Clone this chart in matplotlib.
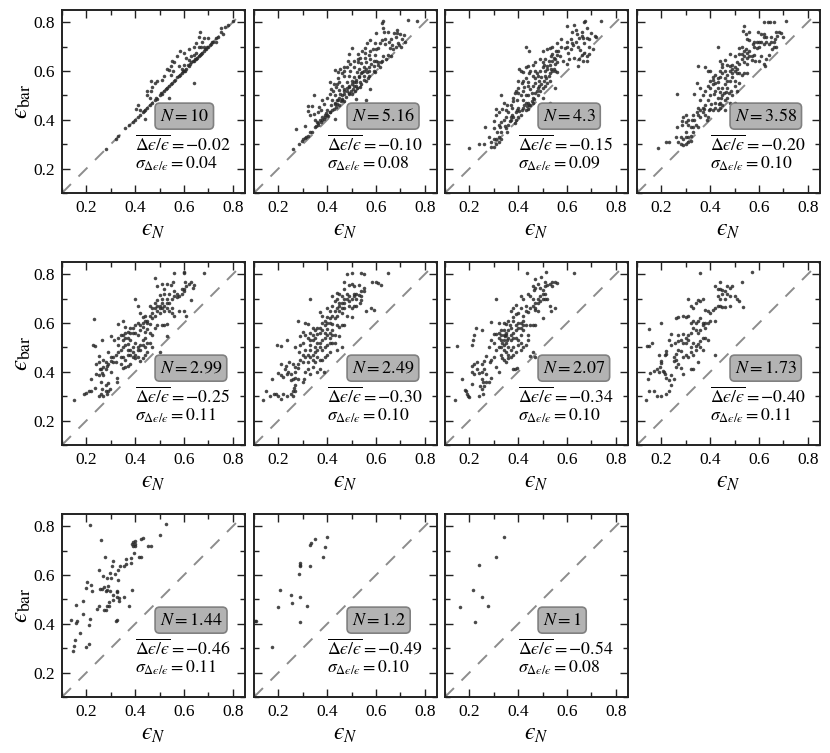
"""Bar ellipticity against isophotal ellipticity for eleven values of N."""

import matplotlib

matplotlib.use("Agg")
import matplotlib.pyplot as plt
from matplotlib.ticker import MultipleLocator

plt.rcParams["font.family"] = ["Liberation Serif", "DejaVu Serif"]
plt.rcParams["mathtext.fontset"] = "stix"

# (eps_N, eps_bar) pairs, one list per panel
pts_10 = [(.28,.28),(.32,.32),(.33,.335),(.36,.365),(.375,.38),(.39,.39),(.40,.40),(.41,.41),(.42,.42),(.43,.43),(.44,.44),(.45,.45),(.46,.46),(.47,.47),(.48,.48),(.49,.485),(.50,.50),(.51,.505),(.52,.52),(.53,.53),(.54,.54),(.55,.55),(.56,.56),(.57,.575),(.58,.58),(.59,.59),(.60,.60),(.61,.61),(.62,.62),(.63,.635),(.64,.64),(.65,.65),(.66,.66),(.67,.67),(.68,.68),(.69,.69),(.70,.70),(.71,.71),(.72,.72),(.73,.72),(.74,.74),(.75,.76),(.76,.75),(.77,.78),(.78,.79),(.80,.805),(.435,.435),(.485,.49),(.505,.51),(.525,.525),(.545,.545),(.565,.565),(.585,.585),(.595,.60),(.605,.60),(.615,.625),(.625,.63),(.635,.64),(.645,.65),(.655,.655),(.665,.665),(.675,.675),(.685,.69),(.695,.70),(.705,.705),(.715,.72),(.666,.758),(.66,.74),(.68,.735),(.675,.72),(.70,.735),(.64,.70),(.65,.715),(.66,.70),(.67,.70),(.62,.69),(.60,.675),(.585,.68),(.61,.655),(.57,.66),(.55,.64),(.56,.635),(.58,.62),(.545,.62),(.555,.60),(.53,.61),(.54,.605),(.52,.58),(.545,.585),(.49,.56),(.51,.565),(.465,.56),(.47,.535),(.48,.55),(.45,.52),(.465,.52),(.45,.50),(.46,.49),(.41,.46),(.405,.445),(.42,.44),(.54,.49),(.64,.55),(.44,.405),(.75,.775),(.73,.735),(.64,.665),(.65,.675),(.63,.66),(.62,.645),(.68,.70),(.60,.625),(.59,.61)]

pts_516 = [(.768,.805),(.73,.81),(.627,.805),(.625,.795),(.63,.775),(.686,.77),(.648,.76),(.634,.76),(.673,.755),(.686,.757),(.70,.75),(.714,.747),(.60,.755),(.682,.74),(.707,.73),(.663,.73),(.638,.73),(.625,.725),(.652,.72),(.618,.715),(.636,.71),(.577,.725),(.597,.715),(.565,.715),(.693,.705),(.703,.70),(.665,.705),(.656,.695),(.61,.695),(.587,.69),(.556,.695),(.50,.695),(.49,.67),(.526,.67),(.556,.675),(.542,.68),(.57,.665),(.597,.665),(.63,.66),(.66,.66),(.535,.655),(.556,.655),(.577,.648),(.59,.643),(.61,.637),(.625,.643),(.51,.64),(.525,.637),(.54,.633),(.56,.637),(.495,.628),(.48,.617),(.467,.615),(.453,.61),(.433,.603),(.443,.597),(.51,.615),(.53,.61),(.55,.615),(.57,.615),(.597,.595),(.618,.615),(.495,.60),(.522,.595),(.543,.595),(.563,.595),(.467,.58),(.443,.57),(.412,.555),(.426,.545),(.447,.553),(.488,.58),(.508,.575),(.53,.575),(.55,.565),(.566,.573),(.50,.557),(.52,.553),(.538,.545),(.48,.553),(.46,.54),(.437,.533),(.416,.526),(.447,.522),(.467,.526),(.49,.535),(.51,.54),(.522,.53),(.574,.526),(.48,.518),(.497,.518),(.453,.505),(.47,.507),(.488,.507),(.433,.50),(.412,.507),(.344,.50),(.378,.48),(.42,.483),(.443,.483),(.46,.486),(.52,.486),(.56,.48),(.556,.465),(.323,.458),(.337,.455),(.367,.452),(.374,.442),(.43,.463),(.437,.452),(.45,.46),(.323,.435),(.344,.425),(.328,.42),(.364,.433),(.396,.426),(.412,.433),(.426,.446),(.405,.415),(.433,.403),(.378,.40),(.364,.387),(.35,.37),(.337,.35),(.33,.35),(.31,.375),(.273,.364),(.31,.327),(.296,.313),(.285,.30),(.258,.28),(.323,.334),(.364,.38),(.39,.42),(.385,.405),(.42,.44),(.41,.43),(.40,.42),(.44,.465),(.46,.48),(.475,.495),(.49,.51),(.505,.525),(.52,.54),(.535,.555),(.55,.58),(.57,.60),(.59,.62),(.60,.64),(.30,.32),(.315,.33),(.355,.375),(.375,.39),(.43,.47),(.44,.48),(.45,.49),(.46,.50),(.47,.52),(.48,.53),(.49,.54),(.50,.545),(.51,.555),(.52,.565),(.53,.58),(.54,.59),(.55,.60),(.56,.61),(.58,.63),(.40,.44),(.39,.41),(.38,.41),(.37,.40),(.36,.39),(.415,.46),(.455,.475),(.47,.475),(.50,.505),(.515,.52),(.535,.535),(.56,.56),(.57,.58),(.59,.60),(.61,.625),(.62,.635),(.64,.65),(.65,.665),(.67,.69),(.68,.70),(.69,.715),(.72,.72),(.60,.69),(.575,.68),(.525,.65),(.47,.60),(.485,.64),(.46,.59),(.44,.545),(.425,.52),(.40,.49),(.385,.465),(.35,.40)]

pts_43 = [(.20,.285),(.24,.30),(.26,.30),(.29,.29),(.29,.31),(.30,.29),(.30,.32),(.31,.30),(.31,.32),(.32,.31),(.32,.33),(.33,.32),(.28,.33),(.265,.37),(.30,.365),(.30,.395),(.31,.42),(.325,.37),(.315,.35),(.35,.365),(.36,.38),(.365,.395),(.31,.445),(.32,.43),(.335,.445),(.33,.50),(.35,.44),(.36,.43),(.37,.46),(.38,.475),(.375,.42),(.39,.40),(.385,.385),(.40,.41),(.41,.42),(.40,.45),(.42,.45),(.43,.44),(.44,.445),(.45,.46),(.46,.47),(.44,.47),(.38,.49),(.395,.48),(.42,.48),(.43,.50),(.385,.51),(.40,.53),(.42,.52),(.44,.50),(.46,.49),(.47,.51),(.48,.50),(.49,.52),(.50,.49),(.53,.47),(.45,.525),(.46,.54),(.47,.55),(.48,.53),(.50,.53),(.51,.54),(.52,.55),(.55,.53),(.415,.55),(.43,.57),(.44,.555),(.42,.595),(.40,.56),(.41,.60),(.405,.61),(.44,.62),(.43,.615),(.45,.60),(.46,.625),(.47,.60),(.48,.58),(.49,.60),(.50,.615),(.51,.60),(.52,.61),(.47,.635),(.49,.65),(.50,.635),(.51,.65),(.53,.59),(.54,.60),(.55,.60),(.53,.56),(.56,.595),(.43,.70),(.445,.68),(.50,.68),(.52,.69),(.53,.695),(.54,.70),(.55,.65),(.54,.67),(.555,.68),(.56,.665),(.57,.66),(.54,.64),(.55,.63),(.56,.635),(.53,.625),(.585,.64),(.60,.63),(.61,.65),(.605,.675),(.63,.655),(.65,.65),(.665,.64),(.655,.685),(.645,.70),(.62,.715),(.615,.73),(.60,.72),(.56,.715),(.575,.73),(.62,.76),(.64,.75),(.66,.745),(.665,.735),(.68,.735),(.69,.73),(.66,.76),(.68,.775),(.70,.755),(.715,.745),(.72,.74),(.635,.77),(.60,.785),(.63,.79),(.67,.80),(.675,.805),(.74,.805),(.705,.69),(.67,.675),(.66,.665),(.68,.66),(.69,.67),(.33,.35),(.345,.375),(.355,.35),(.37,.40),(.47,.57),(.51,.58),(.52,.62),(.37,.41),(.38,.41),(.39,.43),(.395,.44),(.405,.435),(.415,.44),(.425,.46),(.43,.47),(.435,.455),(.445,.46),(.455,.475),(.465,.485),(.475,.52),(.485,.54),(.495,.545),(.505,.56),(.515,.57),(.525,.58),(.535,.61),(.545,.61),(.485,.56),(.46,.58),(.445,.59),(.42,.56),(.40,.51),(.375,.45),(.35,.41),(.34,.40),(.33,.39),(.32,.38),(.34,.47),(.355,.46),(.39,.52),(.41,.50),(.425,.535),(.44,.54),(.455,.51),(.475,.59),(.495,.575),(.505,.625),(.525,.64),(.535,.66),(.545,.655),(.565,.68),(.575,.70),(.59,.695),(.60,.70),(.615,.69),(.625,.705),(.635,.72),(.65,.735),(.67,.715),(.69,.70),(.68,.64),(.645,.62)]

pts_358 = [(.185,.285),(.22,.31),(.23,.31),(.26,.33),(.265,.37),(.27,.31),(.28,.33),(.28,.30),(.29,.32),(.29,.295),(.30,.33),(.30,.30),(.31,.33),(.31,.31),(.32,.315),(.32,.335),(.285,.395),(.29,.41),(.285,.38),(.30,.42),(.30,.39),(.32,.37),(.325,.40),(.33,.35),(.34,.38),(.35,.37),(.345,.43),(.36,.41),(.36,.44),(.37,.45),(.38,.42),(.385,.40),(.39,.41),(.38,.46),(.39,.48),(.40,.445),(.41,.44),(.42,.45),(.43,.44),(.44,.45),(.45,.46),(.46,.44),(.40,.50),(.415,.505),(.43,.49),(.44,.47),(.45,.50),(.46,.48),(.47,.49),(.48,.47),(.49,.50),(.50,.47),(.265,.505),(.335,.505),(.345,.55),(.36,.53),(.38,.52),(.39,.54),(.40,.53),(.41,.545),(.42,.52),(.43,.53),(.44,.515),(.45,.53),(.46,.545),(.47,.53),(.50,.54),(.52,.55),(.35,.62),(.38,.615),(.39,.60),(.40,.60),(.41,.575),(.42,.585),(.43,.57),(.44,.60),(.45,.615),(.46,.60),(.47,.585),(.48,.56),(.49,.575),(.50,.56),(.51,.59),(.43,.70),(.44,.64),(.45,.63),(.46,.645),(.47,.625),(.48,.60),(.49,.625),(.50,.615),(.51,.635),(.52,.59),(.53,.585),(.54,.59),(.55,.59),(.50,.66),(.52,.67),(.53,.65),(.54,.66),(.545,.69),(.55,.675),(.56,.66),(.57,.66),(.58,.665),(.585,.64),(.53,.70),(.52,.695),(.54,.635),(.55,.63),(.60,.64),(.62,.63),(.625,.62),(.63,.65),(.61,.66),(.64,.665),(.655,.69),(.66,.70),(.64,.71),(.63,.72),(.60,.70),(.59,.695),(.575,.71),(.56,.725),(.55,.73),(.595,.76),(.61,.75),(.62,.74),(.63,.74),(.65,.74),(.665,.73),(.67,.76),(.675,.745),(.68,.76),(.69,.755),(.70,.74),(.62,.75),(.62,.80),(.635,.80),(.645,.80),(.66,.80),(.71,.805),(.54,.785),(.535,.765),(.545,.75),(.48,.67),(.56,.76),(.58,.72),(.49,.59),(.51,.52),(.335,.40),(.35,.42),(.37,.43),(.375,.445),(.395,.44),(.405,.465),(.42,.47),(.435,.465),(.445,.49),(.455,.51),(.465,.515),(.475,.51),(.485,.52),(.40,.56),(.41,.565),(.42,.55),(.43,.555),(.44,.575),(.45,.59),(.46,.57),(.47,.56),(.48,.62),(.49,.61),(.50,.60),(.51,.61),(.52,.63),(.53,.67),(.54,.68),(.55,.655),(.56,.68),(.57,.645),(.58,.70),(.59,.72),(.60,.72),(.61,.72),(.62,.71),(.65,.72),(.66,.72),(.67,.70),(.36,.48),(.37,.50),(.35,.45),(.33,.42),(.31,.40),(.31,.38),(.30,.35),(.33,.37)]

pts_299 = [(.15,.285),(.19,.31),(.20,.315),(.21,.32),(.22,.32),(.22,.37),(.24,.39),(.235,.335),(.25,.30),(.26,.31),(.265,.33),(.27,.30),(.28,.32),(.285,.31),(.29,.32),(.295,.33),(.28,.345),(.29,.355),(.25,.385),(.265,.395),(.26,.41),(.27,.385),(.28,.41),(.29,.43),(.24,.43),(.25,.44),(.25,.465),(.28,.44),(.29,.48),(.30,.40),(.325,.36),(.325,.375),(.30,.445),(.31,.46),(.32,.44),(.33,.48),(.34,.43),(.35,.415),(.36,.42),(.37,.425),(.38,.43),(.225,.51),(.235,.505),(.265,.53),(.30,.545),(.315,.53),(.33,.51),(.34,.49),(.35,.50),(.36,.51),(.37,.47),(.38,.49),(.39,.46),(.40,.455),(.41,.46),(.42,.445),(.43,.455),(.44,.47),(.45,.48),(.50,.48),(.33,.54),(.34,.55),(.35,.53),(.36,.54),(.37,.515),(.38,.53),(.39,.50),(.40,.52),(.41,.50),(.42,.49),(.43,.51),(.44,.50),(.45,.52),(.46,.52),(.47,.50),(.53,.545),(.23,.615),(.33,.595),(.35,.61),(.36,.585),(.37,.565),(.38,.58),(.39,.56),(.40,.59),(.41,.60),(.42,.57),(.43,.585),(.44,.565),(.45,.575),(.46,.56),(.47,.55),(.48,.58),(.49,.59),(.51,.59),(.52,.59),(.53,.595),(.40,.70),(.41,.67),(.42,.64),(.43,.625),(.44,.63),(.45,.61),(.46,.595),(.47,.62),(.48,.63),(.49,.65),(.50,.64),(.51,.66),(.52,.65),(.53,.66),(.54,.68),(.55,.66),(.56,.63),(.58,.65),(.60,.65),(.61,.63),(.63,.695),(.46,.67),(.47,.66),(.48,.68),(.49,.695),(.50,.715),(.51,.70),(.52,.72),(.53,.70),(.54,.72),(.55,.70),(.56,.71),(.57,.705),(.58,.71),(.59,.72),(.60,.74),(.61,.75),(.62,.76),(.63,.77),(.64,.755),(.635,.745),(.605,.77),(.60,.73),(.48,.785),(.49,.75),(.51,.76),(.53,.76),(.545,.755),(.56,.73),(.555,.77),(.52,.74),(.56,.805),(.60,.805),(.60,.81),(.68,.805),(.27,.42),(.285,.425),(.30,.46),(.31,.44),(.32,.47),(.34,.46),(.35,.46),(.36,.45),(.37,.49),(.38,.47),(.39,.48),(.40,.47),(.41,.49),(.42,.51),(.43,.53),(.44,.54),(.35,.55),(.36,.56),(.37,.54),(.38,.56),(.39,.58),(.40,.56),(.41,.55),(.42,.59),(.43,.60),(.44,.61),(.45,.60),(.46,.63),(.47,.64),(.48,.66),(.49,.67),(.50,.67),(.51,.68),(.52,.67),(.53,.68),(.54,.65),(.55,.64),(.50,.66),(.59,.74),(.57,.72),(.255,.41),(.27,.45),(.26,.36)]

pts_249 = [(.135,.285),(.15,.32),(.165,.30),(.18,.31),(.19,.31),(.20,.30),(.21,.29),(.22,.31),(.235,.30),(.25,.31),(.26,.32),(.26,.30),(.27,.345),(.27,.32),(.265,.335),(.175,.37),(.20,.395),(.21,.385),(.22,.38),(.225,.41),(.235,.39),(.24,.40),(.25,.365),(.26,.37),(.27,.375),(.28,.37),(.30,.36),(.305,.37),(.21,.43),(.23,.425),(.245,.44),(.26,.43),(.27,.42),(.28,.415),(.30,.44),(.31,.40),(.32,.41),(.33,.39),(.34,.42),(.36,.40),(.37,.41),(.385,.40),(.195,.51),(.21,.505),(.235,.53),(.27,.50),(.285,.48),(.29,.51),(.30,.52),(.31,.49),(.32,.47),(.33,.49),(.34,.45),(.35,.44),(.36,.46),(.37,.45),(.38,.45),(.39,.46),(.40,.47),(.41,.48),(.44,.49),(.46,.50),(.29,.545),(.30,.565),(.31,.55),(.32,.54),(.33,.51),(.34,.53),(.35,.50),(.36,.52),(.37,.50),(.38,.49),(.39,.50),(.40,.51),(.41,.52),(.42,.52),(.43,.52),(.45,.545),(.28,.61),(.31,.60),(.32,.595),(.33,.56),(.34,.58),(.35,.57),(.36,.555),(.37,.58),(.38,.60),(.39,.56),(.40,.575),(.41,.56),(.42,.57),(.43,.55),(.44,.59),(.45,.585),(.46,.59),(.47,.59),(.33,.70),(.37,.645),(.38,.63),(.39,.61),(.40,.625),(.41,.60),(.42,.595),(.43,.62),(.44,.63),(.45,.65),(.46,.64),(.47,.66),(.40,.66),(.41,.65),(.42,.67),(.43,.69),(.44,.70),(.45,.68),(.46,.71),(.47,.70),(.48,.72),(.49,.69),(.50,.70),(.51,.71),(.52,.70),(.53,.715),(.54,.73),(.55,.745),(.54,.695),(.535,.68),(.52,.67),(.51,.67),(.50,.66),(.49,.67),(.48,.63),(.50,.625),(.56,.65),(.58,.66),(.59,.655),(.42,.71),(.44,.725),(.45,.72),(.47,.74),(.49,.755),(.50,.76),(.51,.75),(.53,.755),(.47,.77),(.48,.80),(.54,.805),(.55,.80),(.585,.77),(.60,.77),(.61,.765),(.62,.755),(.65,.805),(.50,.805),(.28,.43),(.29,.45),(.30,.47),(.31,.46),(.32,.44),(.33,.46),(.34,.47),(.35,.48),(.36,.49),(.37,.52),(.38,.53),(.39,.54),(.40,.55),(.41,.54),(.42,.55),(.33,.53),(.34,.55),(.35,.54),(.36,.58),(.37,.56),(.38,.57),(.39,.59),(.40,.60),(.41,.62),(.42,.63),(.43,.65),(.44,.66),(.45,.67),(.46,.68),(.47,.68),(.48,.70),(.49,.71),(.51,.72),(.52,.72),(.54,.71),(.55,.73),(.46,.66),(.27,.40),(.25,.39)]

pts_207 = [(.14,.285),(.17,.37),(.18,.325),(.185,.32),(.19,.31),(.195,.30),(.2,.295),(.21,.35),(.24,.30),(.245,.34),(.25,.33),(.255,.31),(.26,.34),(.255,.36),(.27,.36),(.28,.36),(.29,.375),(.25,.37),(.21,.40),(.22,.39),(.23,.41),(.24,.395),(.25,.40),(.26,.41),(.27,.39),(.21,.425),(.22,.43),(.23,.44),(.25,.43),(.26,.445),(.27,.465),(.285,.44),(.29,.45),(.31,.42),(.32,.40),(.30,.46),(.15,.505),(.21,.51),(.215,.53),(.22,.55),(.225,.58),(.25,.57),(.28,.50),(.29,.53),(.30,.52),(.31,.49),(.32,.50),(.33,.47),(.335,.455),(.34,.45),(.35,.44),(.36,.455),(.37,.46),(.38,.41),(.385,.41),(.395,.415),(.31,.555),(.30,.555),(.32,.54),(.33,.53),(.34,.51),(.35,.52),(.36,.50),(.37,.49),(.38,.50),(.39,.48),(.40,.51),(.41,.52),(.42,.50),(.44,.53),(.46,.48),(.45,.465),(.47,.46),(.29,.605),(.32,.60),(.33,.57),(.34,.55),(.35,.56),(.36,.54),(.37,.53),(.38,.56),(.39,.54),(.40,.53),(.41,.55),(.42,.57),(.43,.59),(.34,.60),(.35,.595),(.36,.61),(.37,.58),(.38,.61),(.39,.59),(.40,.60),(.41,.58),(.42,.59),(.45,.59),(.46,.59),(.47,.59),(.31,.70),(.37,.65),(.38,.66),(.39,.675),(.40,.64),(.41,.66),(.42,.63),(.43,.65),(.44,.645),(.45,.66),(.46,.67),(.47,.655),(.48,.65),(.39,.635),(.38,.625),(.41,.71),(.42,.70),(.43,.67),(.44,.72),(.45,.71),(.46,.70),(.47,.68),(.48,.70),(.49,.69),(.50,.70),(.51,.72),(.52,.70),(.53,.67),(.55,.66),(.535,.65),(.50,.62),(.465,.735),(.47,.745),(.48,.76),(.49,.745),(.50,.735),(.51,.75),(.52,.755),(.53,.76),(.54,.75),(.55,.77),(.56,.765),(.54,.77),(.46,.75),(.47,.78),(.435,.805),(.495,.79),(.51,.77),(.515,.81),(.63,.805),(.33,.50),(.335,.52),(.34,.53),(.345,.545),(.35,.55),(.355,.53),(.36,.57),(.365,.59),(.37,.55),(.38,.54),(.39,.57),(.40,.58),(.41,.60),(.42,.61),(.33,.55),(.34,.57),(.32,.56),(.36,.47),(.35,.48),(.34,.49),(.38,.47),(.41,.49),(.43,.51),(.44,.55),(.47,.66),(.48,.68),(.49,.71),(.50,.72),(.51,.70)]

pts_173 = [(.135,.285),(.145,.37),(.15,.32),(.17,.32),(.18,.30),(.20,.30),(.22,.31),(.23,.32),(.24,.345),(.22,.375),(.23,.365),(.25,.37),(.155,.395),(.17,.405),(.18,.41),(.19,.40),(.195,.42),(.205,.405),(.21,.40),(.215,.39),(.24,.385),(.26,.42),(.27,.43),(.28,.415),(.29,.39),(.32,.41),(.33,.41),(.20,.435),(.20,.445),(.19,.47),(.215,.47),(.22,.475),(.22,.485),(.15,.505),(.16,.52),(.14,.505),(.23,.53),(.25,.46),(.26,.475),(.27,.49),(.28,.485),(.29,.46),(.30,.47),(.31,.46),(.32,.48),(.33,.47),(.34,.49),(.35,.44),(.36,.50),(.37,.49),(.42,.47),(.25,.445),(.26,.45),(.24,.51),(.255,.52),(.27,.525),(.28,.53),(.29,.52),(.30,.52),(.31,.53),(.32,.50),(.33,.52),(.34,.505),(.35,.515),(.36,.525),(.37,.54),(.38,.54),(.39,.53),(.15,.575),(.20,.60),(.24,.555),(.27,.55),(.29,.555),(.30,.54),(.31,.55),(.32,.56),(.33,.58),(.34,.57),(.35,.56),(.36,.57),(.37,.59),(.38,.58),(.39,.60),(.29,.63),(.26,.62),(.27,.625),(.30,.625),(.31,.63),(.32,.60),(.33,.61),(.34,.60),(.35,.61),(.36,.62),(.37,.60),(.38,.60),(.40,.61),(.42,.61),(.31,.70),(.32,.67),(.33,.66),(.34,.68),(.35,.695),(.36,.69),(.37,.70),(.38,.655),(.39,.65),(.40,.64),(.41,.655),(.42,.66),(.43,.67),(.44,.67),(.45,.665),(.46,.665),(.48,.67),(.535,.665),(.43,.71),(.44,.70),(.45,.72),(.46,.70),(.47,.72),(.48,.71),(.50,.71),(.51,.70),(.52,.69),(.42,.75),(.43,.74),(.44,.74),(.45,.735),(.46,.73),(.47,.75),(.48,.745),(.44,.77),(.49,.75),(.53,.77),(.36,.805),(.57,.81)]

pts_144 = [(.215,.806),(.26,.743),(.527,.809),(.50,.765),(.434,.751),(.423,.747),(.40,.74),(.39,.735),(.387,.727),(.40,.727),(.39,.72),(.40,.717),(.454,.717),(.464,.717),(.395,.69),(.417,.674),(.425,.675),(.383,.67),(.276,.674),(.31,.658),(.363,.665),(.382,.649),(.363,.645),(.338,.638),(.356,.638),(.304,.638),(.331,.622),(.253,.619),(.297,.61),(.317,.604),(.267,.597),(.286,.587),(.30,.587),(.331,.58),(.201,.571),(.218,.56),(.198,.546),(.224,.533),(.256,.544),(.263,.542),(.274,.55),(.283,.54),(.29,.556),(.297,.535),(.28,.535),(.31,.519),(.327,.535),(.325,.532),(.386,.54),(.324,.509),(.335,.505),(.354,.508),(.294,.489),(.334,.494),(.188,.494),(.157,.478),(.307,.498),(.286,.471),(.294,.471),(.376,.474),(.25,.474),(.245,.46),(.272,.458),(.28,.455),(.185,.44),(.215,.42),(.212,.396),(.137,.414),(.16,.41),(.157,.403),(.322,.41),(.327,.416),(.174,.362),(.152,.334),(.149,.307),(.146,.29),(.198,.304),(.21,.318)]

pts_12 = [(.104,.41),(.11,.41),(.172,.304),(.198,.468),(.205,.537),(.253,.518),(.257,.487),(.29,.509),(.29,.408),(.286,.604),(.289,.649),(.29,.642),(.289,.637),(.328,.638),(.319,.474),(.33,.721),(.333,.73),(.348,.747),(.391,.716),(.382,.675),(.401,.754)]

pts_1 = [(.16,.468),(.223,.408),(.215,.537),(.25,.509),(.278,.472),(.241,.639),(.307,.675),(.343,.754)]

panel_pts = [pts_10, pts_516, pts_43, pts_358, pts_299, pts_249, pts_207, pts_173, pts_144, pts_12, pts_1]
n_labels = ["10", "5.16", "4.3", "3.58", "2.99", "2.49", "2.07", "1.73", "1.44", "1.2", "1"]
mean_labels = ["0.02", "0.10", "0.15", "0.20", "0.25", "0.30", "0.34", "0.40", "0.46", "0.49", "0.54"]
sigma_labels = ["0.04", "0.08", "0.09", "0.10", "0.11", "0.10", "0.10", "0.11", "0.11", "0.10", "0.08"]

W, H = 830, 753
lefts = [62, 254, 445, 637]
tops = [10, 262, 514]
side = 183
EPS = "\u03f5"

fig = plt.figure(figsize=(W / 100, H / 100), dpi=100)
for i, pts in enumerate(panel_pts):
    row, col = divmod(i, 4)
    ax = fig.add_axes([lefts[col] / W, 1 - (tops[row] + side) / H, side / W, side / H])
    ax.plot([0.1, 0.85], [0.1, 0.85], color="#8c8c8c", lw=1.4, dashes=(6.5, 5.5), zorder=1)
    ax.scatter([p[0] for p in pts], [p[1] for p in pts], s=6.5, color="#2a2a2a", alpha=0.85,
               linewidths=0, zorder=2)
    ax.set_xlim(0.1, 0.85)
    ax.set_ylim(0.1, 0.85)
    ax.xaxis.set_major_locator(MultipleLocator(0.2))
    ax.yaxis.set_major_locator(MultipleLocator(0.2))
    ax.xaxis.set_minor_locator(MultipleLocator(0.1))
    ax.yaxis.set_minor_locator(MultipleLocator(0.1))
    ax.tick_params(which="both", direction="in", top=True, right=True, color="#222222")
    ax.tick_params(which="major", length=6, width=1, labelsize=12.5, pad=5, labelleft=col == 0)
    ax.tick_params(which="minor", length=3.5, width=1)
    for spine in ax.spines.values():
        spine.set_linewidth(1.4)
        spine.set_color("#222222")
    ax.set_xlabel(rf"${EPS}_N$", fontsize=17, labelpad=3)
    if col == 0:
        ax.set_ylabel(rf"${EPS}_{{\rm bar}}$", fontsize=18, labelpad=0)
    ax.text(0.5, 0.415, rf"$N={n_labels[i]}$", fontsize=13, va="center", ha="left",
            bbox=dict(boxstyle="round,pad=0.25", fc="#b3b3b3", ec="#808080", lw=1.2))
    ax.text(0.4, 0.272, rf"$\overline{{\Delta{EPS}/{EPS}}}=-{mean_labels[i]}$",
            fontsize=12.8, va="baseline", ha="left")
    ax.text(0.4, 0.198, rf"$\sigma_{{\Delta{EPS}/{EPS}}}={sigma_labels[i]}$",
            fontsize=12.8, va="baseline", ha="left")

fig.savefig("out.png", dpi=100)
plt.close(fig)
